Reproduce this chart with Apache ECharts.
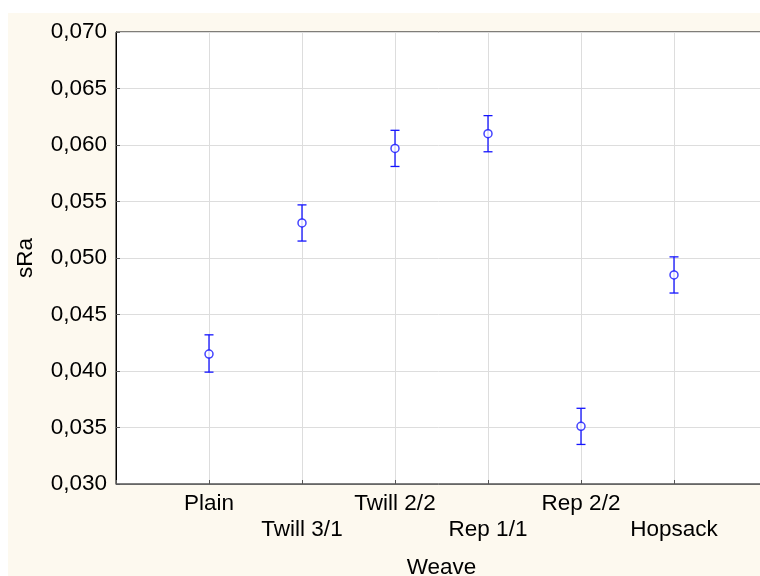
<!DOCTYPE html>
<html>
<head>
<meta charset="utf-8">
<script src="https://cdn.jsdelivr.net/npm/echarts@6/dist/echarts.min.js"></script>
<style>
html,body{margin:0;padding:0;background:#ffffff;}
#chart{position:absolute;left:8px;top:13px;width:752px;height:563px;}
</style>
</head>
<body>
<div id="chart"></div>
<script>
const categories = ['', 'Plain', 'Twill 3/1', 'Twill 2/2', 'Rep 1/1', 'Rep 2/2', 'Hopsack', ''];
const means = [0.0415, 0.0531, 0.0597, 0.0610, 0.0351, 0.0485];
const lowers = [0.0399, 0.0515, 0.0581, 0.0594, 0.0335, 0.0469];
const uppers = [0.0432, 0.0547, 0.0613, 0.0626, 0.0367, 0.0501];
const yTicks = {min: 0.030, max: 0.070, step: 0.005};

const pointData = means.map((m, i) => [i + 1, m]);
const errData = means.map((m, i) => [i + 1, lowers[i], uppers[i]]);
const blue = '#1414ff';
const font = 'Liberation Sans, Arial, sans-serif';
const fs = 22.5;

const chart = echarts.init(document.getElementById('chart'));
chart.setOption({
  backgroundColor: '#fdf9ef',
  animation: false,
  grid: {left: 108, top: 19, width: 651, height: 452, outerBoundsMode: 'none', containLabel: false,
         show: true, backgroundColor: '#ffffff', borderColor: '#000000', borderWidth: 1},
  xAxis: {
    type: 'category',
    data: categories,
    boundaryGap: false,
    name: 'Weave',
    nameLocation: 'middle',
    nameGap: 72,
    nameTextStyle: {fontFamily: font, fontSize: fs, color: '#000'},
    axisLine: {lineStyle: {color: '#666666', width: 1}},
    axisTick: {inside: true, length: 4, lineStyle: {color: '#555555'}},
    axisLabel: {
      fontFamily: font, fontSize: fs, color: '#000', margin: 7, lineHeight: 26,
      interval: 0,
      formatter: function (v, i) { return (i % 2 === 0 && v) ? '\n' + v : v; }
    },
    splitLine: {show: true, interval: 0, lineStyle: {color: '#dddddd', width: 1}}
  },
  yAxis: {
    type: 'value',
    min: yTicks.min, max: yTicks.max, interval: yTicks.step,
    name: 'sRa',
    nameLocation: 'middle',
    nameGap: 79,
    nameRotate: 90,
    nameTextStyle: {fontFamily: font, fontSize: fs, color: '#000'},
    axisLine: {show: true, lineStyle: {color: '#000000', width: 1}},
    axisTick: {show: true, inside: true, length: 4, lineStyle: {color: '#555555'}},
    axisLabel: {
      fontFamily: font, fontSize: fs, color: '#000', margin: 9,
      formatter: function (v) { return v.toFixed(3).replace('.', ','); }
    },
    splitLine: {show: true, lineStyle: {color: '#dddddd', width: 1}}
  },
  series: [
    {
      type: 'custom',
      data: errData,
      z: 3,
      renderItem: function (params, api) {
        const x = api.value(0);
        const lo = api.coord([x, api.value(1)]);
        const hi = api.coord([x, api.value(2)]);
        const hw = 4.5;
        const style = {stroke: blue, lineWidth: 1.3};
        return {
          type: 'group',
          children: [
            {type: 'line', shape: {x1: lo[0], y1: lo[1], x2: hi[0], y2: hi[1]}, style: style},
            {type: 'line', shape: {x1: lo[0] - hw, y1: lo[1], x2: lo[0] + hw, y2: lo[1]}, style: style},
            {type: 'line', shape: {x1: hi[0] - hw, y1: hi[1], x2: hi[0] + hw, y2: hi[1]}, style: style}
          ]
        };
      }
    },
    {
      type: 'scatter',
      data: pointData,
      z: 4,
      symbol: 'circle',
      symbolSize: 8,
      itemStyle: {color: '#ffffff', borderColor: blue, borderWidth: 1.5}
    }
  ]
});
</script>
</body>
</html>
